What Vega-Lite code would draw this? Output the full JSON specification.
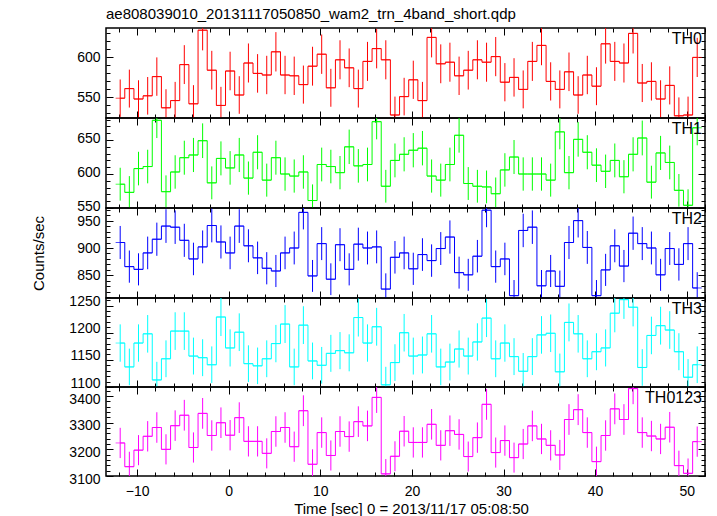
{
  "$schema": "https://vega.github.io/schema/vega-lite/v6.json",
  "autosize": {"type": "pad"},
  "padding": {"left": 30, "top": 5, "right": 11, "bottom": 5},
  "background": "#ffffff",
  "config": {
    "font": "Liberation Sans",
    "view": {"stroke": "#000000", "strokeWidth": 1.5},
    "axis": {"domain": false, "grid": false, "labelFont": "Liberation Sans", "labelFontSize": 14, "labelColor": "#000000", "tickColor": "#000000", "tickWidth": 1, "titleFont": "Liberation Sans", "titleFontWeight": "normal", "titleColor": "#000000", "titleFontSize": 15, "labelFlush": false, "labelOverlap": false, "format": "d"},
    "title": {"font": "Liberation Sans", "fontWeight": "normal", "color": "#000000"}
  },
  "datasets": {
    "TH0": [
      {"t":-11.85,"y":549,"e":23.4},{"t":-10.85,"y":561,"e":23.7},{"t":-9.85,"y":548,"e":23.4},{"t":-8.85,"y":552,"e":23.5},
      {"t":-7.85,"y":576,"e":24.0},{"t":-6.85,"y":537,"e":23.2},{"t":-5.85,"y":546,"e":23.4},{"t":-4.85,"y":591,"e":24.3},
      {"t":-3.85,"y":542,"e":23.3},{"t":-2.85,"y":634,"e":25.2},{"t":-1.85,"y":584,"e":24.2},{"t":-0.85,"y":540,"e":23.2},
      {"t":0.15,"y":583,"e":24.1},{"t":1.15,"y":553,"e":23.5},{"t":2.15,"y":593,"e":24.4},{"t":3.15,"y":580,"e":24.1},
      {"t":4.15,"y":578,"e":24.0},{"t":5.15,"y":607,"e":24.6},{"t":6.15,"y":578,"e":24.0},{"t":7.15,"y":577,"e":24.0},
      {"t":8.15,"y":566,"e":23.8},{"t":9.15,"y":589,"e":24.3},{"t":10.15,"y":604,"e":24.6},{"t":11.15,"y":562,"e":23.7},
      {"t":12.15,"y":597,"e":24.4},{"t":13.15,"y":587,"e":24.2},{"t":14.15,"y":561,"e":23.7},{"t":15.15,"y":595,"e":24.4},
      {"t":16.15,"y":611,"e":24.7},{"t":17.15,"y":597,"e":24.4},{"t":18.15,"y":528,"e":23.0},{"t":19.15,"y":551,"e":23.5},
      {"t":20.15,"y":572,"e":23.9},{"t":21.15,"y":546,"e":23.4},{"t":22.15,"y":625,"e":25.0},{"t":23.15,"y":592,"e":24.3},
      {"t":24.15,"y":594,"e":24.4},{"t":25.15,"y":577,"e":24.0},{"t":26.15,"y":584,"e":24.2},{"t":27.15,"y":597,"e":24.4},
      {"t":28.15,"y":594,"e":24.4},{"t":29.15,"y":601,"e":24.5},{"t":30.15,"y":569,"e":23.9},{"t":31.15,"y":575,"e":24.0},
      {"t":32.15,"y":560,"e":23.7},{"t":33.15,"y":595,"e":24.4},{"t":34.15,"y":615,"e":24.8},{"t":35.15,"y":570,"e":23.9},
      {"t":36.15,"y":560,"e":23.7},{"t":37.15,"y":582,"e":24.1},{"t":38.15,"y":553,"e":23.5},{"t":39.15,"y":578,"e":24.0},
      {"t":40.15,"y":564,"e":23.7},{"t":41.15,"y":617,"e":24.8},{"t":42.15,"y":595,"e":24.4},{"t":43.15,"y":593,"e":24.4},
      {"t":44.15,"y":630,"e":25.1},{"t":45.15,"y":568,"e":23.8},{"t":46.15,"y":570,"e":23.9},{"t":47.15,"y":548,"e":23.4},
      {"t":48.15,"y":565,"e":23.8},{"t":49.15,"y":527,"e":23.0},{"t":50.15,"y":528,"e":23.0},{"t":51.15,"y":600,"e":24.5}
    ],
    "TH1": [
      {"t":-11.85,"y":585,"e":24.2},{"t":-10.85,"y":573,"e":23.9},{"t":-9.85,"y":608,"e":24.7},{"t":-8.85,"y":611,"e":24.7},
      {"t":-7.85,"y":679,"e":26.1},{"t":-6.85,"y":574,"e":24.0},{"t":-5.85,"y":603,"e":24.6},{"t":-4.85,"y":624,"e":25.0},
      {"t":-3.85,"y":628,"e":25.1},{"t":-2.85,"y":649,"e":25.5},{"t":-1.85,"y":587,"e":24.2},{"t":-0.85,"y":623,"e":25.0},
      {"t":0.15,"y":609,"e":24.7},{"t":1.15,"y":628,"e":25.1},{"t":2.15,"y":594,"e":24.4},{"t":3.15,"y":632,"e":25.1},
      {"t":4.15,"y":591,"e":24.3},{"t":5.15,"y":624,"e":25.0},{"t":6.15,"y":600,"e":24.5},{"t":7.15,"y":597,"e":24.4},
      {"t":8.15,"y":603,"e":24.6},{"t":9.15,"y":561,"e":23.7},{"t":10.15,"y":614,"e":24.8},{"t":11.15,"y":611,"e":24.7},
      {"t":12.15,"y":602,"e":24.5},{"t":13.15,"y":640,"e":25.3},{"t":14.15,"y":612,"e":24.7},{"t":15.15,"y":614,"e":24.8},
      {"t":16.15,"y":677,"e":26.0},{"t":17.15,"y":582,"e":24.1},{"t":18.15,"y":620,"e":24.9},{"t":19.15,"y":629,"e":25.1},
      {"t":20.15,"y":635,"e":25.2},{"t":21.15,"y":638,"e":25.3},{"t":22.15,"y":597,"e":24.4},{"t":23.15,"y":591,"e":24.3},
      {"t":24.15,"y":614,"e":24.8},{"t":25.15,"y":657,"e":25.6},{"t":26.15,"y":586,"e":24.2},{"t":27.15,"y":582,"e":24.1},
      {"t":28.15,"y":581,"e":24.1},{"t":29.15,"y":571,"e":23.9},{"t":30.15,"y":606,"e":24.6},{"t":31.15,"y":625,"e":25.0},
      {"t":32.15,"y":600,"e":24.5},{"t":33.15,"y":600,"e":24.5},{"t":34.15,"y":600,"e":24.5},{"t":35.15,"y":591,"e":24.3},
      {"t":36.15,"y":662,"e":25.7},{"t":37.15,"y":602,"e":24.5},{"t":38.15,"y":651,"e":25.5},{"t":39.15,"y":632,"e":25.1},
      {"t":40.15,"y":613,"e":24.8},{"t":41.15,"y":604,"e":24.6},{"t":42.15,"y":620,"e":24.9},{"t":43.15,"y":596,"e":24.4},
      {"t":44.15,"y":629,"e":25.1},{"t":45.15,"y":653,"e":25.6},{"t":46.15,"y":588,"e":24.2},{"t":47.15,"y":631,"e":25.1},
      {"t":48.15,"y":617,"e":24.8},{"t":49.15,"y":576,"e":24.0},{"t":50.15,"y":554,"e":23.5},{"t":51.15,"y":668,"e":25.8}
    ],
    "TH2": [
      {"t":-11.85,"y":910,"e":30.2},{"t":-10.85,"y":866,"e":29.4},{"t":-9.85,"y":861,"e":29.3},{"t":-8.85,"y":891,"e":29.8},
      {"t":-7.85,"y":916,"e":30.3},{"t":-6.85,"y":940,"e":30.7},{"t":-5.85,"y":938,"e":30.6},{"t":-4.85,"y":914,"e":30.2},
      {"t":-3.85,"y":880,"e":29.7},{"t":-2.85,"y":902,"e":30.0},{"t":-1.85,"y":941,"e":30.7},{"t":-0.85,"y":911,"e":30.2},
      {"t":0.15,"y":891,"e":29.8},{"t":1.15,"y":940,"e":30.7},{"t":2.15,"y":904,"e":30.1},{"t":3.15,"y":882,"e":29.7},
      {"t":4.15,"y":863,"e":29.4},{"t":5.15,"y":858,"e":29.3},{"t":6.15,"y":891,"e":29.8},{"t":7.15,"y":900,"e":30.0},
      {"t":8.15,"y":965,"e":31.1},{"t":9.15,"y":849,"e":29.1},{"t":10.15,"y":908,"e":30.1},{"t":11.15,"y":843,"e":29.0},
      {"t":12.15,"y":906,"e":30.1},{"t":13.15,"y":861,"e":29.3},{"t":14.15,"y":907,"e":30.1},{"t":15.15,"y":900,"e":30.0},
      {"t":16.15,"y":902,"e":30.0},{"t":17.15,"y":825,"e":28.7},{"t":18.15,"y":883,"e":29.7},{"t":19.15,"y":891,"e":29.8},
      {"t":20.15,"y":862,"e":29.4},{"t":21.15,"y":888,"e":29.8},{"t":22.15,"y":877,"e":29.6},{"t":23.15,"y":899,"e":30.0},
      {"t":24.15,"y":920,"e":30.3},{"t":25.15,"y":855,"e":29.2},{"t":26.15,"y":851,"e":29.2},{"t":27.15,"y":885,"e":29.7},
      {"t":28.15,"y":969,"e":31.1},{"t":29.15,"y":866,"e":29.4},{"t":30.15,"y":880,"e":29.7},{"t":31.15,"y":813,"e":28.5},
      {"t":32.15,"y":932,"e":30.5},{"t":33.15,"y":938,"e":30.6},{"t":34.15,"y":831,"e":28.8},{"t":35.15,"y":858,"e":29.3},
      {"t":36.15,"y":830,"e":28.8},{"t":37.15,"y":910,"e":30.2},{"t":38.15,"y":950,"e":30.8},{"t":39.15,"y":901,"e":30.0},
      {"t":40.15,"y":813,"e":28.5},{"t":41.15,"y":860,"e":29.3},{"t":42.15,"y":904,"e":30.1},{"t":43.15,"y":867,"e":29.4},
      {"t":44.15,"y":927,"e":30.4},{"t":45.15,"y":908,"e":30.1},{"t":46.15,"y":900,"e":30.0},{"t":47.15,"y":851,"e":29.2},
      {"t":48.15,"y":899,"e":30.0},{"t":49.15,"y":870,"e":29.5},{"t":50.15,"y":908,"e":30.1},{"t":51.15,"y":827,"e":28.8}
    ],
    "TH3": [
      {"t":-11.85,"y":1181,"e":34.4},{"t":-10.85,"y":1137,"e":33.7},{"t":-9.85,"y":1181,"e":34.4},{"t":-8.85,"y":1198,"e":34.6},
      {"t":-7.85,"y":1113,"e":33.4},{"t":-6.85,"y":1152,"e":33.9},{"t":-5.85,"y":1203,"e":34.7},{"t":-4.85,"y":1203,"e":34.7},
      {"t":-3.85,"y":1157,"e":34.0},{"t":-2.85,"y":1154,"e":34.0},{"t":-1.85,"y":1141,"e":33.8},{"t":-0.85,"y":1229,"e":35.1},
      {"t":0.15,"y":1172,"e":34.2},{"t":1.15,"y":1201,"e":34.7},{"t":2.15,"y":1143,"e":33.8},{"t":3.15,"y":1139,"e":33.7},
      {"t":4.15,"y":1152,"e":33.9},{"t":5.15,"y":1180,"e":34.4},{"t":6.15,"y":1216,"e":34.9},{"t":7.15,"y":1137,"e":33.7},
      {"t":8.15,"y":1214,"e":34.8},{"t":9.15,"y":1148,"e":33.9},{"t":10.15,"y":1140,"e":33.8},{"t":11.15,"y":1162,"e":34.1},
      {"t":12.15,"y":1167,"e":34.2},{"t":13.15,"y":1163,"e":34.1},{"t":14.15,"y":1228,"e":35.0},{"t":15.15,"y":1181,"e":34.4},
      {"t":16.15,"y":1211,"e":34.8},{"t":17.15,"y":1104,"e":33.2},{"t":18.15,"y":1145,"e":33.8},{"t":19.15,"y":1200,"e":34.6},
      {"t":20.15,"y":1157,"e":34.0},{"t":21.15,"y":1159,"e":34.0},{"t":22.15,"y":1198,"e":34.6},{"t":23.15,"y":1137,"e":33.7},
      {"t":24.15,"y":1146,"e":33.9},{"t":25.15,"y":1170,"e":34.2},{"t":26.15,"y":1157,"e":34.0},{"t":27.15,"y":1183,"e":34.4},
      {"t":28.15,"y":1227,"e":35.0},{"t":29.15,"y":1152,"e":33.9},{"t":30.15,"y":1181,"e":34.4},{"t":31.15,"y":1156,"e":34.0},
      {"t":32.15,"y":1129,"e":33.6},{"t":33.15,"y":1156,"e":34.0},{"t":34.15,"y":1196,"e":34.6},{"t":35.15,"y":1199,"e":34.6},
      {"t":36.15,"y":1128,"e":33.6},{"t":37.15,"y":1219,"e":34.9},{"t":38.15,"y":1198,"e":34.6},{"t":39.15,"y":1152,"e":33.9},
      {"t":40.15,"y":1165,"e":34.1},{"t":41.15,"y":1172,"e":34.2},{"t":42.15,"y":1236,"e":35.2},{"t":43.15,"y":1261,"e":35.5},
      {"t":44.15,"y":1247,"e":35.3},{"t":45.15,"y":1136,"e":33.7},{"t":46.15,"y":1195,"e":34.6},{"t":47.15,"y":1213,"e":34.8},
      {"t":48.15,"y":1205,"e":34.7},{"t":49.15,"y":1165,"e":34.1},{"t":50.15,"y":1118,"e":33.4},{"t":51.15,"y":1141,"e":33.8}
    ],
    "TH0123": [
      {"t":-11.85,"y":3224,"e":56.8},{"t":-10.85,"y":3135,"e":56.0},{"t":-9.85,"y":3197,"e":56.5},{"t":-8.85,"y":3249,"e":57.0},
      {"t":-7.85,"y":3282,"e":57.3},{"t":-6.85,"y":3200,"e":56.6},{"t":-5.85,"y":3289,"e":57.3},{"t":-4.85,"y":3328,"e":57.7},
      {"t":-3.85,"y":3207,"e":56.6},{"t":-2.85,"y":3335,"e":57.7},{"t":-1.85,"y":3252,"e":57.0},{"t":-0.85,"y":3300,"e":57.4},
      {"t":0.15,"y":3253,"e":57.0},{"t":1.15,"y":3319,"e":57.6},{"t":2.15,"y":3230,"e":56.8},{"t":3.15,"y":3230,"e":56.8},
      {"t":4.15,"y":3185,"e":56.4},{"t":5.15,"y":3267,"e":57.2},{"t":6.15,"y":3282,"e":57.3},{"t":7.15,"y":3210,"e":56.7},
      {"t":8.15,"y":3345,"e":57.8},{"t":9.15,"y":3144,"e":56.1},{"t":10.15,"y":3263,"e":57.1},{"t":11.15,"y":3177,"e":56.4},
      {"t":12.15,"y":3267,"e":57.2},{"t":13.15,"y":3248,"e":57.0},{"t":14.15,"y":3304,"e":57.5},{"t":15.15,"y":3288,"e":57.3},
      {"t":16.15,"y":3395,"e":58.3},{"t":17.15,"y":3108,"e":55.7},{"t":18.15,"y":3174,"e":56.3},{"t":19.15,"y":3268,"e":57.2},
      {"t":20.15,"y":3226,"e":56.8},{"t":21.15,"y":3226,"e":56.8},{"t":22.15,"y":3294,"e":57.4},{"t":23.15,"y":3215,"e":56.7},
      {"t":24.15,"y":3270,"e":57.2},{"t":25.15,"y":3256,"e":57.1},{"t":26.15,"y":3173,"e":56.3},{"t":27.15,"y":3244,"e":57.0},
      {"t":28.15,"y":3369,"e":58.0},{"t":29.15,"y":3188,"e":56.5},{"t":30.15,"y":3233,"e":56.9},{"t":31.15,"y":3169,"e":56.3},
      {"t":32.15,"y":3220,"e":56.7},{"t":33.15,"y":3288,"e":57.3},{"t":34.15,"y":3239,"e":56.9},{"t":35.15,"y":3215,"e":56.7},
      {"t":36.15,"y":3179,"e":56.4},{"t":37.15,"y":3312,"e":57.6},{"t":38.15,"y":3349,"e":57.9},{"t":39.15,"y":3263,"e":57.1},
      {"t":40.15,"y":3154,"e":56.2},{"t":41.15,"y":3252,"e":57.0},{"t":42.15,"y":3352,"e":57.9},{"t":43.15,"y":3312,"e":57.6},
      {"t":44.15,"y":3428,"e":58.5},{"t":45.15,"y":3263,"e":57.1},{"t":46.15,"y":3250,"e":57.0},{"t":47.15,"y":3239,"e":56.9},
      {"t":48.15,"y":3283,"e":57.3},{"t":49.15,"y":3139,"e":56.0},{"t":50.15,"y":3110,"e":55.8},{"t":51.15,"y":3229,"e":56.8}
    ]
  },
  "vconcat": [
    {
      "width": 599, "height": 90,
      "title": {"text": "ae808039010_20131117050850_wam2_trn_4band_short.qdp", "anchor": "start", "frame": "group", "fontSize": 15, "offset": 6},
      "data": {"name": "TH0"},
      "resolve": {"axis": {"x": "independent", "y": "independent"}},
      "layer": [
        {"mark": {"type": "errorbar", "color": "#ff0000", "thickness": 1},
         "encoding": {
           "x": {"field": "t", "type": "quantitative", "scale": {"domain": [-13.4, 52], "nice": false, "zero": false}, "axis": {"orient": "bottom", "values": [-10,0,10,20,30,40,50], "tickSize": -7, "labels": false, "title": null}},
           "y": {"field": "y", "type": "quantitative", "scale": {"domain": [524.25, 636.75], "nice": false, "zero": false, "clamp": true}, "axis": {"orient": "left", "values": [550,600], "tickSize": -7, "labelPadding": 13, "title": null}},
           "yError": {"field": "e"}}},
        {"mark": {"type": "line", "interpolate": "step", "color": "#ff0000", "strokeWidth": 1},
         "encoding": {
           "x": {"field": "t", "type": "quantitative", "scale": {"domain": [-13.4, 52], "nice": false, "zero": false}, "axis": {"orient": "bottom", "values": [-12,-8,-6,-4,-2,2,4,6,8,12,14,16,18,22,24,26,28,32,34,36,38,42,44,46,48,52], "tickSize": -4, "labels": false, "title": null}},
           "y": {"field": "y", "type": "quantitative", "scale": {"domain": [524.25, 636.75], "nice": false, "zero": false, "clamp": true}, "axis": {"orient": "left", "values": [530,540,560,570,580,590,610,620,630], "tickSize": -4, "labels": false, "title": null}}}},
        {"mark": {"type": "tick", "orient": "horizontal", "size": 9.16, "thickness": 1, "color": "#ff0000"},
         "encoding": {
           "x": {"field": "t", "type": "quantitative", "scale": {"domain": [-13.4, 52], "nice": false, "zero": false}, "axis": {"orient": "top", "values": [-10,0,10,20,30,40,50], "tickSize": -7, "labels": false, "title": null}},
           "y": {"field": "y", "type": "quantitative", "scale": {"domain": [524.25, 636.75], "nice": false, "zero": false, "clamp": true}, "axis": {"orient": "right", "values": [550,600], "tickSize": -7, "labels": false, "title": null}}}},
        {"data": {"values": [{"label": "TH0"}]},
         "mark": {"type": "text", "align": "right", "baseline": "top", "dx": -3, "dy": 3, "fontSize": 16, "font": "Liberation Sans", "color": "#000000"},
         "encoding": {
           "text": {"field": "label"},
           "x": {"datum": 52, "type": "quantitative", "scale": {"domain": [-13.4, 52], "nice": false, "zero": false}, "axis": {"orient": "top", "values": [-12,-8,-6,-4,-2,2,4,6,8,12,14,16,18,22,24,26,28,32,34,36,38,42,44,46,48,52], "tickSize": -4, "labels": false, "title": null}},
           "y": {"datum": 636.75, "type": "quantitative", "scale": {"domain": [524.25, 636.75], "nice": false, "zero": false, "clamp": true}, "axis": {"orient": "right", "values": [530,540,560,570,580,590,610,620,630], "tickSize": -4, "labels": false, "title": null}}}}
      ]
    },
    {
      "width": 599, "height": 90,
      "data": {"name": "TH1"},
      "resolve": {"axis": {"x": "independent", "y": "independent"}},
      "layer": [
        {"mark": {"type": "errorbar", "color": "#00ff00", "thickness": 1},
         "encoding": {
           "x": {"field": "t", "type": "quantitative", "scale": {"domain": [-13.4, 52], "nice": false, "zero": false}, "axis": {"orient": "bottom", "values": [-10,0,10,20,30,40,50], "tickSize": -7, "labels": false, "title": null}},
           "y": {"field": "y", "type": "quantitative", "scale": {"domain": [550, 682.4], "nice": false, "zero": false, "clamp": true}, "axis": {"orient": "left", "values": [550,600,650], "tickSize": -7, "labelPadding": 13, "labelOffset": -2, "title": null}},
           "yError": {"field": "e"}}},
        {"mark": {"type": "line", "interpolate": "step", "color": "#00ff00", "strokeWidth": 1},
         "encoding": {
           "x": {"field": "t", "type": "quantitative", "scale": {"domain": [-13.4, 52], "nice": false, "zero": false}, "axis": {"orient": "bottom", "values": [-12,-8,-6,-4,-2,2,4,6,8,12,14,16,18,22,24,26,28,32,34,36,38,42,44,46,48,52], "tickSize": -4, "labels": false, "title": null}},
           "y": {"field": "y", "type": "quantitative", "scale": {"domain": [550, 682.4], "nice": false, "zero": false, "clamp": true}, "axis": {"orient": "left", "values": [560,570,580,590,610,620,630,640,660,670,680], "tickSize": -4, "labels": false, "title": null}}}},
        {"mark": {"type": "tick", "orient": "horizontal", "size": 9.16, "thickness": 1, "color": "#00ff00"},
         "encoding": {
           "x": {"field": "t", "type": "quantitative", "scale": {"domain": [-13.4, 52], "nice": false, "zero": false}, "axis": {"orient": "top", "values": [-10,0,10,20,30,40,50], "tickSize": -7, "labels": false, "title": null}},
           "y": {"field": "y", "type": "quantitative", "scale": {"domain": [550, 682.4], "nice": false, "zero": false, "clamp": true}, "axis": {"orient": "right", "values": [550,600,650], "tickSize": -7, "labels": false, "title": null}}}},
        {"data": {"values": [{"label": "TH1"}]},
         "mark": {"type": "text", "align": "right", "baseline": "top", "dx": -3, "dy": 3, "fontSize": 16, "font": "Liberation Sans", "color": "#000000"},
         "encoding": {
           "text": {"field": "label"},
           "x": {"datum": 52, "type": "quantitative", "scale": {"domain": [-13.4, 52], "nice": false, "zero": false}, "axis": {"orient": "top", "values": [-12,-8,-6,-4,-2,2,4,6,8,12,14,16,18,22,24,26,28,32,34,36,38,42,44,46,48,52], "tickSize": -4, "labels": false, "title": null}},
           "y": {"datum": 682.4, "type": "quantitative", "scale": {"domain": [550, 682.4], "nice": false, "zero": false, "clamp": true}, "axis": {"orient": "right", "values": [560,570,580,590,610,620,630,640,660,670,680], "tickSize": -4, "labels": false, "title": null}}}}
      ]
    },
    {
      "width": 599, "height": 90,
      "data": {"name": "TH2"},
      "resolve": {"axis": {"x": "independent", "y": "independent"}},
      "layer": [
        {"mark": {"type": "errorbar", "color": "#0000ff", "thickness": 1},
         "encoding": {
           "x": {"field": "t", "type": "quantitative", "scale": {"domain": [-13.4, 52], "nice": false, "zero": false}, "axis": {"orient": "bottom", "values": [-10,0,10,20,30,40,50], "tickSize": -7, "labels": false, "title": null}},
           "y": {"field": "y", "type": "quantitative", "scale": {"domain": [808.7, 973], "nice": false, "zero": false, "clamp": true}, "axis": {"orient": "left", "values": [850,900,950], "tickSize": -7, "labelPadding": 13, "labelOffset": 0.5, "title": "Counts/sec", "titleX": -60}},
           "yError": {"field": "e"}}},
        {"mark": {"type": "line", "interpolate": "step", "color": "#0000ff", "strokeWidth": 1},
         "encoding": {
           "x": {"field": "t", "type": "quantitative", "scale": {"domain": [-13.4, 52], "nice": false, "zero": false}, "axis": {"orient": "bottom", "values": [-12,-8,-6,-4,-2,2,4,6,8,12,14,16,18,22,24,26,28,32,34,36,38,42,44,46,48,52], "tickSize": -4, "labels": false, "title": null}},
           "y": {"field": "y", "type": "quantitative", "scale": {"domain": [808.7, 973], "nice": false, "zero": false, "clamp": true}, "axis": {"orient": "left", "values": [810,820,830,840,860,870,880,890,910,920,930,940,960,970], "tickSize": -4, "labels": false, "title": null}}}},
        {"mark": {"type": "tick", "orient": "horizontal", "size": 9.16, "thickness": 1, "color": "#0000ff"},
         "encoding": {
           "x": {"field": "t", "type": "quantitative", "scale": {"domain": [-13.4, 52], "nice": false, "zero": false}, "axis": {"orient": "top", "values": [-10,0,10,20,30,40,50], "tickSize": -7, "labels": false, "title": null}},
           "y": {"field": "y", "type": "quantitative", "scale": {"domain": [808.7, 973], "nice": false, "zero": false, "clamp": true}, "axis": {"orient": "right", "values": [850,900,950], "tickSize": -7, "labels": false, "title": null}}}},
        {"data": {"values": [{"label": "TH2"}]},
         "mark": {"type": "text", "align": "right", "baseline": "top", "dx": -3, "dy": 3, "fontSize": 16, "font": "Liberation Sans", "color": "#000000"},
         "encoding": {
           "text": {"field": "label"},
           "x": {"datum": 52, "type": "quantitative", "scale": {"domain": [-13.4, 52], "nice": false, "zero": false}, "axis": {"orient": "top", "values": [-12,-8,-6,-4,-2,2,4,6,8,12,14,16,18,22,24,26,28,32,34,36,38,42,44,46,48,52], "tickSize": -4, "labels": false, "title": null}},
           "y": {"datum": 973, "type": "quantitative", "scale": {"domain": [808.7, 973], "nice": false, "zero": false, "clamp": true}, "axis": {"orient": "right", "values": [810,820,830,840,860,870,880,890,910,920,930,940,960,970], "tickSize": -4, "labels": false, "title": null}}}}
      ]
    },
    {
      "width": 599, "height": 89,
      "data": {"name": "TH3"},
      "resolve": {"axis": {"x": "independent", "y": "independent"}},
      "layer": [
        {"mark": {"type": "errorbar", "color": "#00ffff", "thickness": 1},
         "encoding": {
           "x": {"field": "t", "type": "quantitative", "scale": {"domain": [-13.4, 52], "nice": false, "zero": false}, "axis": {"orient": "bottom", "values": [-10,0,10,20,30,40,50], "tickSize": -7, "labels": false, "title": null}},
           "y": {"field": "y", "type": "quantitative", "scale": {"domain": [1100, 1264], "nice": false, "zero": false, "clamp": true}, "axis": {"orient": "left", "values": [1100,1150,1200,1250], "tickSize": -7, "labelPadding": 13, "labelOffset": -4, "title": null}},
           "yError": {"field": "e"}}},
        {"mark": {"type": "line", "interpolate": "step", "color": "#00ffff", "strokeWidth": 1},
         "encoding": {
           "x": {"field": "t", "type": "quantitative", "scale": {"domain": [-13.4, 52], "nice": false, "zero": false}, "axis": {"orient": "bottom", "values": [-12,-8,-6,-4,-2,2,4,6,8,12,14,16,18,22,24,26,28,32,34,36,38,42,44,46,48,52], "tickSize": -4, "labels": false, "title": null}},
           "y": {"field": "y", "type": "quantitative", "scale": {"domain": [1100, 1264], "nice": false, "zero": false, "clamp": true}, "axis": {"orient": "left", "values": [1110,1120,1130,1140,1160,1170,1180,1190,1210,1220,1230,1240,1260], "tickSize": -4, "labels": false, "title": null}}}},
        {"mark": {"type": "tick", "orient": "horizontal", "size": 9.16, "thickness": 1, "color": "#00ffff"},
         "encoding": {
           "x": {"field": "t", "type": "quantitative", "scale": {"domain": [-13.4, 52], "nice": false, "zero": false}, "axis": {"orient": "top", "values": [-10,0,10,20,30,40,50], "tickSize": -7, "labels": false, "title": null}},
           "y": {"field": "y", "type": "quantitative", "scale": {"domain": [1100, 1264], "nice": false, "zero": false, "clamp": true}, "axis": {"orient": "right", "values": [1100,1150,1200,1250], "tickSize": -7, "labels": false, "title": null}}}},
        {"data": {"values": [{"label": "TH3"}]},
         "mark": {"type": "text", "align": "right", "baseline": "top", "dx": -3, "dy": 3, "fontSize": 16, "font": "Liberation Sans", "color": "#000000"},
         "encoding": {
           "text": {"field": "label"},
           "x": {"datum": 52, "type": "quantitative", "scale": {"domain": [-13.4, 52], "nice": false, "zero": false}, "axis": {"orient": "top", "values": [-12,-8,-6,-4,-2,2,4,6,8,12,14,16,18,22,24,26,28,32,34,36,38,42,44,46,48,52], "tickSize": -4, "labels": false, "title": null}},
           "y": {"datum": 1264, "type": "quantitative", "scale": {"domain": [1100, 1264], "nice": false, "zero": false, "clamp": true}, "axis": {"orient": "right", "values": [1110,1120,1130,1140,1160,1170,1180,1190,1210,1220,1230,1240,1260], "tickSize": -4, "labels": false, "title": null}}}}
      ]
    },
    {
      "width": 599, "height": 89,
      "data": {"name": "TH0123"},
      "resolve": {"axis": {"x": "independent", "y": "independent"}},
      "layer": [
        {"mark": {"type": "errorbar", "color": "#ff00ff", "thickness": 1},
         "encoding": {
           "x": {"field": "t", "type": "quantitative", "scale": {"domain": [-13.4, 52], "nice": false, "zero": false}, "axis": {"orient": "bottom", "values": [-10,0,10,20,30,40,50], "tickSize": -7, "labels": true, "labelPadding": 15, "title": "Time [sec] 0 = 2013/11/17 05:08:50", "titlePadding": 3, "titleX": 305}},
           "y": {"field": "y", "type": "quantitative", "scale": {"domain": [3100, 3434], "nice": false, "zero": false, "clamp": true}, "axis": {"orient": "left", "values": [3100,3200,3300,3400], "tickSize": -7, "labelPadding": 13, "labelOffset": 3, "title": null}},
           "yError": {"field": "e"}}},
        {"mark": {"type": "line", "interpolate": "step", "color": "#ff00ff", "strokeWidth": 1},
         "encoding": {
           "x": {"field": "t", "type": "quantitative", "scale": {"domain": [-13.4, 52], "nice": false, "zero": false}, "axis": {"orient": "bottom", "values": [-12,-8,-6,-4,-2,2,4,6,8,12,14,16,18,22,24,26,28,32,34,36,38,42,44,46,48,52], "tickSize": -4, "labels": false, "title": null}},
           "y": {"field": "y", "type": "quantitative", "scale": {"domain": [3100, 3434], "nice": false, "zero": false, "clamp": true}, "axis": {"orient": "left", "values": [3120,3140,3160,3180,3220,3240,3260,3280,3320,3340,3360,3380,3420], "tickSize": -4, "labels": false, "title": null}}}},
        {"mark": {"type": "tick", "orient": "horizontal", "size": 9.16, "thickness": 1, "color": "#ff00ff"},
         "encoding": {
           "x": {"field": "t", "type": "quantitative", "scale": {"domain": [-13.4, 52], "nice": false, "zero": false}, "axis": {"orient": "top", "values": [-10,0,10,20,30,40,50], "tickSize": -7, "labels": false, "title": null}},
           "y": {"field": "y", "type": "quantitative", "scale": {"domain": [3100, 3434], "nice": false, "zero": false, "clamp": true}, "axis": {"orient": "right", "values": [3100,3200,3300,3400], "tickSize": -7, "labels": false, "title": null}}}},
        {"data": {"values": [{"label": "TH0123"}]},
         "mark": {"type": "text", "align": "right", "baseline": "top", "dx": -3, "dy": 3, "fontSize": 16, "font": "Liberation Sans", "color": "#000000"},
         "encoding": {
           "text": {"field": "label"},
           "x": {"datum": 52, "type": "quantitative", "scale": {"domain": [-13.4, 52], "nice": false, "zero": false}, "axis": {"orient": "top", "values": [-12,-8,-6,-4,-2,2,4,6,8,12,14,16,18,22,24,26,28,32,34,36,38,42,44,46,48,52], "tickSize": -4, "labels": false, "title": null}},
           "y": {"datum": 3434, "type": "quantitative", "scale": {"domain": [3100, 3434], "nice": false, "zero": false, "clamp": true}, "axis": {"orient": "right", "values": [3120,3140,3160,3180,3220,3240,3260,3280,3320,3340,3360,3380,3420], "tickSize": -4, "labels": false, "title": null}}}}
      ]
    }
  ],
  "spacing": 0,
  "bounds": "flush"
}
